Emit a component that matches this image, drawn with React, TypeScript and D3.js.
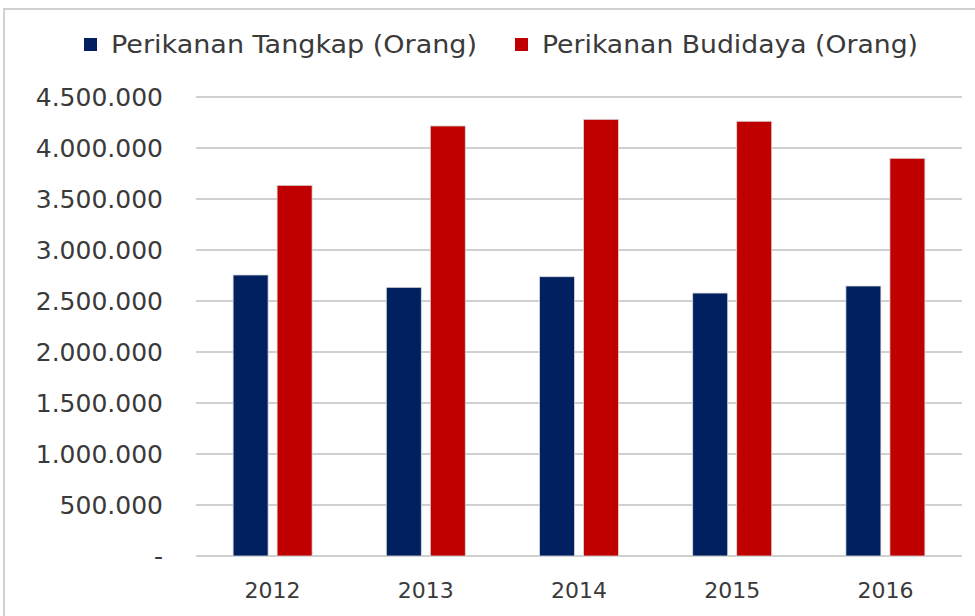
import * as d3 from 'd3';

const WIDTH = 975;
const HEIGHT = 616;
const MARGIN = { top: 97, right: 13, bottom: 60, left: 196 };

const years = ['2012', '2013', '2014', '2015', '2016'];
const seriesNames = ['Perikanan Tangkap (Orang)', 'Perikanan Budidaya (Orang)'];
const seriesColors = ['#002060', '#c00000'];
const tangkap = [2755000, 2634000, 2738000, 2578000, 2647000];
const budidaya = [3634000, 4216000, 4281000, 4262000, 3899000];
const yTicks = [0, 500000, 1000000, 1500000, 2000000, 2500000, 3000000, 3500000, 4000000, 4500000];

const FONT = "'DejaVu Sans', 'Noto Sans', sans-serif";
const TEXT_COLOR = '#3a3a3a';

const idLocale = d3.formatLocale({ decimal: ',', thousands: '.', grouping: [3], currency: ['Rp', ''] });
const fmt = idLocale.format(',');

const App = () => {
    // bounds inside the axis
    const boundsWidth = WIDTH - MARGIN.left - MARGIN.right;
    const boundsHeight = HEIGHT - MARGIN.top - MARGIN.bottom;

    const xScale = d3.scaleBand().domain(years).range([0, boundsWidth]).padding(0);
    const yScale = d3.scaleLinear().domain([0, 4500000]).range([boundsHeight, 0]);

    const barWidth = 35;
    const barGap = 9;
    const series = [tangkap, budidaya];

    const grid = yTicks.map((v, i) => (
        <g key={i}>
            <line
                x1={0}
                x2={boundsWidth}
                y1={yScale(v)}
                y2={yScale(v)}
                stroke="#d0d0d0"
                strokeWidth={2}
            />
            <text
                x={-33}
                y={yScale(v)}
                textAnchor="end"
                dominantBaseline="central"
                fontSize={25}
                fill={TEXT_COLOR}
                fontFamily={FONT}
            >
                {v === 0 ? '-' : fmt(v)}
            </text>
        </g>
    ));

    const bars = years.map((year, i) => {
        const center = (xScale(year) ?? 0) + xScale.bandwidth() / 2;
        return (
            <g key={year}>
                {series.map((s, j) => {
                    const x = j === 0 ? center - barGap / 2 - barWidth : center + barGap / 2;
                    return (
                        <rect
                            key={j}
                            x={x}
                            y={yScale(s[i])}
                            width={barWidth}
                            height={boundsHeight - yScale(s[i])}
                            fill={seriesColors[j]}
                            stroke="#d9d9d9"
                            strokeWidth={0.8}
                        />
                    );
                })}
                <text
                    x={center}
                    y={boundsHeight + 34}
                    textAnchor="middle"
                    dominantBaseline="central"
                    fontSize={22}
                    fill={TEXT_COLOR}
                    fontFamily={FONT}
                >
                    {year}
                </text>
            </g>
        );
    });

    const legendX = [84, 515];
    const legendLen = [366, 376];
    const legend = seriesNames.map((name, i) => (
        <g key={name} transform={`translate(${legendX[i]},45)`}>
            <rect x={0} y={-7} width={13} height={13} fill={seriesColors[i]} />
            <text
                x={27}
                y={0}
                dominantBaseline="central"
                fontSize={24}
                fill={TEXT_COLOR}
                fontFamily={FONT}
                textLength={legendLen[i]}
                lengthAdjust="spacingAndGlyphs"
            >
                {name}
            </text>
        </g>
    ));

    return (
        <svg
            width={WIDTH}
            height={HEIGHT}
            style={{ position: 'absolute', left: 0, top: 0, background: '#fff' }}
        >
            <rect x={4} y={9} width={WIDTH + 10} height={HEIGHT + 10} fill="#fff" stroke="#d0d0d0" strokeWidth={2} />
            {legend}
            <g transform={`translate(${MARGIN.left},${MARGIN.top})`}>
                {grid}
                {bars}
            </g>
        </svg>
    );
};

export default App;
